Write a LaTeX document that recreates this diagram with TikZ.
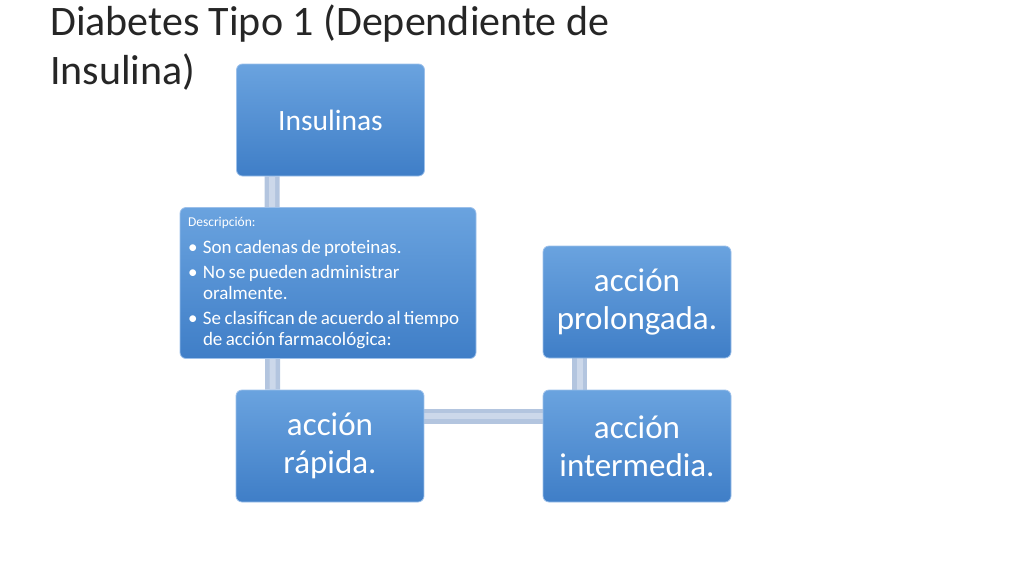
\documentclass[tikz,border=0pt]{standalone}
\usepackage{fontspec}
\setmainfont{Carlito}
\usetikzlibrary{calc,backgrounds}
\definecolor{boxtop}{HTML}{6AA3DF}
\definecolor{boxbot}{HTML}{3F7EC7}
\definecolor{boxedge}{HTML}{9CC0EA}
\definecolor{conncol}{HTML}{B3C5DF}
\definecolor{connhi}{HTML}{CCD8EA}
\definecolor{titlecol}{HTML}{262626}
\tikzset{
  blue box/.style={rectangle, rounded corners=6pt, top color=boxtop, bottom color=boxbot,
    draw=boxedge, line width=0.8pt, text=white, align=center},
  small box/.style={blue box, minimum width=188pt, minimum height=112pt, inner sep=0pt},
  conn/.style={line width=15pt, draw=conncol},
  connin/.style={line width=6pt, draw=connhi},
}
\begin{document}
\begin{tikzpicture}[x=1pt,y=-1pt]
\useasboundingbox (0,0) rectangle (1024,576);
\node[anchor=north west, inner sep=0pt, align=left, text=titlecol,
  font=\fontsize{42}{49}\selectfont] (title) at (50,5)
  {Diabetes Tipo 1 (Dependiente de\\Insulina)};
\node[small box, font=\fontsize{29.5}{35}\selectfont] (ins) at (330.5,120) {Insulinas};
\node[small box, font=\fontsize{33}{38}\selectfont] (rap) at (330,446) {acción\\rápida.};
\node[small box, font=\fontsize{33}{38}\selectfont] (prol) at (637,302) {acción\\prolongada.};
\node[small box, font=\fontsize{33}{38}\selectfont] (inter) at (637,446) {acción\\intermedia.};
\node[blue box, minimum width=296pt, minimum height=151pt, text width=280pt,
  inner xsep=8pt, inner ysep=0pt, align=left] (desc) at (328,283)
  {\hyphenpenalty=10000 {\fontsize{13.5}{15}\selectfont Descripción:}\par\vspace{6pt}
   \fontsize{19}{21.5}\selectfont
   \hangindent=15pt\hangafter=1\makebox[15pt][l]{•}Son cadenas de proteinas.\par\vspace{3pt}
   \hangindent=15pt\hangafter=1\makebox[15pt][l]{•}No se pueden administrar oralmente.\par\vspace{3pt}
   \hangindent=15pt\hangafter=1\makebox[15pt][l]{•}Se clasifican de acuerdo al tiempo de acción farmacológica:\par};
\begin{scope}[on background layer]
  \draw[conn] ($(ins.south west)+(36,0)$) -- ($(rap.north west)+(37,0)$);
  \draw[connin] ($(ins.south west)+(36,0)$) -- ($(rap.north west)+(37,0)$);
  \draw[conn] ($(rap.east)+(0,-30)$) -- ($(inter.west)+(0,-30)$);
  \draw[connin] ($(rap.east)+(0,-30)$) -- ($(inter.west)+(0,-30)$);
  \draw[conn] ($(prol.south west)+(37,0)$) -- ($(inter.north west)+(37,0)$);
  \draw[connin] ($(prol.south west)+(37,0)$) -- ($(inter.north west)+(37,0)$);
\end{scope}
\end{tikzpicture}
\end{document}
